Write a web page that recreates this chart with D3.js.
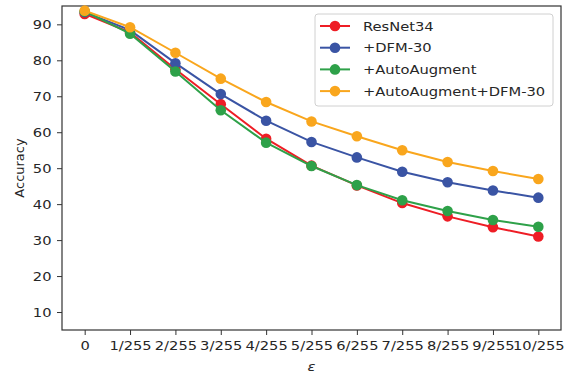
<!DOCTYPE html>
<html>
<head>
<meta charset="utf-8">
<script src="https://cdn.jsdelivr.net/npm/d3@7"></script>
<style>
  body { margin: 0; background: #fff; }
  text { font-family: "DejaVu Sans", sans-serif; }
</style>
</head>
<body>
<div id="chart"></div>
<script>
// data
var epsLabels = ["0", "1/255", "2/255", "3/255", "4/255", "5/255", "6/255", "7/255", "8/255", "9/255", "10/255"];
var resnet34 = [92.9, 87.8, 77.5, 67.8, 58.2, 50.7, 45.2, 40.3, 36.6, 33.6, 31.0];
var dfm30 = [93.4, 88.4, 79.2, 70.6, 63.2, 57.3, 53.0, 49.0, 46.1, 43.8, 41.8];
var autoAug = [93.6, 87.4, 76.9, 66.1, 57.1, 50.6, 45.3, 41.1, 38.1, 35.6, 33.7];
var autoAugDfm = [93.8, 89.2, 82.1, 74.9, 68.4, 63.0, 58.9, 55.0, 51.7, 49.2, 47.0];
var yTicks = [10, 20, 30, 40, 50, 60, 70, 80, 90];

var series = [
  {name: "ResNet34", values: resnet34, color: "#ee1d25"},
  {name: "+DFM-30", values: dfm30, color: "#3a54a4"},
  {name: "+AutoAugment", values: autoAug, color: "#2ea149"},
  {name: "+AutoAugment+DFM-30", values: autoAugDfm, color: "#f9a61d"}
];

var W = 568, H = 374;
var margin = {top: 6, right: 7, bottom: 44, left: 62};
var width = W - margin.left - margin.right,
    height = H - margin.top - margin.bottom;
// the picture is a bit wider than tall, so horizontal text is stretched
var sx = 1.13;

var svg = d3.select("#chart").append("svg")
  .attr("width", W)
  .attr("height", H);

var g = svg.append("g")
  .attr("transform", "translate(" + margin.left + "," + margin.top + ")");

var x = d3.scaleLinear().domain([-0.5, 10.5]).range([0, width]);
var y = d3.scaleLinear().domain([5, 95.1]).range([height, 0]);

var axisColor = "#333";
var textColor = "#262626";

// axes
var xAxis = g.append("g")
  .attr("transform", "translate(0," + height + ")")
  .call(d3.axisBottom(x)
    .tickValues(d3.range(epsLabels.length))
    .tickFormat(function(i) { return epsLabels[i]; })
    .tickSizeOuter(0)
    .tickSize(5)
    .tickPadding(6));

var yAxis = g.append("g")
  .call(d3.axisLeft(y)
    .tickValues(yTicks)
    .tickSizeOuter(0)
    .tickSize(5)
    .tickPadding(4.3));

[xAxis, yAxis].forEach(function(a) {
  a.select(".domain").remove();
  a.selectAll(".tick line").attr("stroke", axisColor).attr("stroke-width", 1);
  a.selectAll(".tick text")
    .attr("fill", textColor)
    .attr("transform", "scale(" + sx + ",1)")
    .style("font-size", "13px")
    .style("font-family", "DejaVu Sans");
});

// frame
g.append("rect")
  .attr("x", 0).attr("y", 0)
  .attr("width", width).attr("height", height)
  .attr("fill", "none")
  .attr("stroke", axisColor)
  .attr("stroke-width", 1.2);

// lines + markers
var line = d3.line()
  .x(function(d, i) { return x(i); })
  .y(function(d) { return y(d); });

series.forEach(function(s) {
  g.append("path")
    .datum(s.values)
    .attr("fill", "none")
    .attr("stroke", s.color)
    .attr("stroke-width", 2)
    .attr("d", line);
  g.selectAll(null)
    .data(s.values)
    .enter().append("circle")
    .attr("cx", function(d, i) { return x(i); })
    .attr("cy", function(d) { return y(d); })
    .attr("r", 5.3)
    .attr("fill", s.color);
});

// axis labels
svg.append("text")
  .attr("transform", "translate(24," + (margin.top + height / 2) + ") rotate(-90)")
  .attr("text-anchor", "middle")
  .attr("fill", textColor)
  .style("font-size", "13px")
  .text("Accuracy");

svg.append("text")
  .attr("transform", "translate(" + (margin.left + width / 2) + ",371) scale(" + sx + ",1)")
  .attr("text-anchor", "middle")
  .attr("fill", textColor)
  .style("font-size", "13px")
  .style("font-style", "italic")
  .text("ε");

// legend
var legend = svg.append("g").attr("transform", "translate(315,14)");
legend.append("rect")
  .attr("width", 238).attr("height", 92)
  .attr("rx", 3)
  .attr("fill", "#fff").attr("fill-opacity", 0.8)
  .attr("stroke", "#d0d0d0");

series.forEach(function(s, i) {
  var ly = 12 + i * 21.7;
  var item = legend.append("g").attr("transform", "translate(0," + ly + ")");
  item.append("line")
    .attr("x1", 5).attr("x2", 35)
    .attr("stroke", s.color).attr("stroke-width", 2);
  item.append("circle")
    .attr("cx", 20).attr("r", 5.3).attr("fill", s.color);
  item.append("text")
    .attr("transform", "translate(48,0) scale(" + sx + ",1)")
    .attr("dy", "0.35em")
    .attr("fill", textColor)
    .style("font-size", "13px")
    .text(s.name);
});
</script>
</body>
</html>
